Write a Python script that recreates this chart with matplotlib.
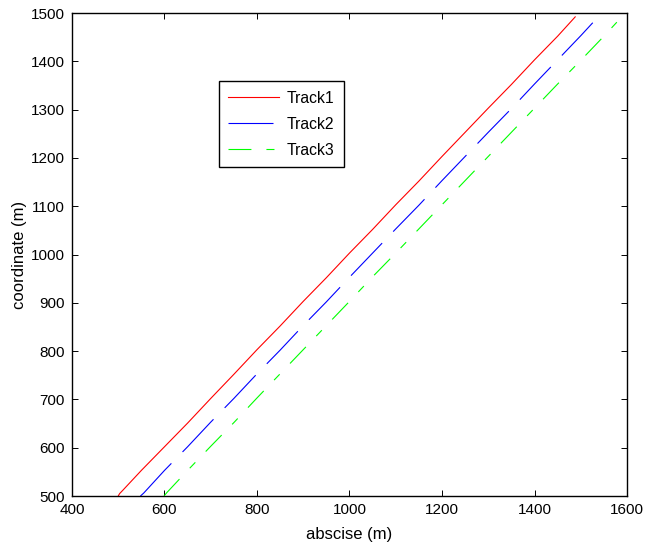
import matplotlib
matplotlib.use("Agg")
import matplotlib.pyplot as plt

plt.rcParams['font.family'] = ['Liberation Sans', 'DejaVu Sans']
plt.rcParams['lines.scale_dashes'] = False

# track positions in metres
track1_x = [500, 503, 510, 550, 600, 650, 700, 750, 800, 850, 900, 950, 1000,
            1050, 1100, 1150, 1200, 1250, 1300, 1350, 1400, 1450, 1488]
track1_y = [500, 505, 512, 553, 602, 651, 702, 752, 803, 852, 903, 952, 1003,
            1052, 1103, 1152, 1203, 1253, 1303, 1352, 1403, 1452, 1492]

track2_x = [548, 555, 600, 650, 700, 750, 800, 850, 900, 950, 1000, 1050,
            1100, 1150, 1200, 1250, 1300, 1350, 1400, 1450, 1500, 1528]
track2_y = [500, 506, 553, 602, 653, 702, 753, 802, 853, 902, 953, 1003,
            1053, 1102, 1153, 1203, 1253, 1302, 1353, 1403, 1453, 1482]

track3_x = [599, 605, 650, 700, 750, 800, 850, 900, 950, 1000, 1050, 1100,
            1150, 1200, 1250, 1300, 1350, 1400, 1450, 1500, 1550, 1578]
track3_y = [500, 507, 553, 603, 652, 703, 753, 803, 853, 903, 954, 1003,
            1053, 1103, 1153, 1203, 1253, 1303, 1353, 1402, 1452, 1481]

fig = plt.figure(figsize=(6.45, 5.47), dpi=100)
ax = fig.add_axes([0.1116, 0.0932, 0.8605, 0.883])

ax.plot(track1_x, track1_y, color='#ff0000', lw=0.8, label='Track1')
ax.plot(track2_x, track2_y, color='#0000ff', lw=0.8, label='Track2',
        dashes=(32.4, 11.5))
ax.plot(track3_x, track3_y, color='#00ff00', lw=0.8, label='Track3',
        dashes=(16.5, 10.8, 5.8, 10.8))

ax.set_xlim(400, 1600)
ax.set_ylim(500, 1500)
ax.set_xticks(range(400, 1601, 200))
ax.set_yticks(range(500, 1501, 100))
ax.tick_params(direction='in', top=True, right=True, length=4.3, width=0.7,
               labelsize=11, pad=5)
for s in ax.spines.values():
    s.set_linewidth(1.0)

ax.set_xlabel('abscise (m)', fontsize=12, labelpad=7)
ax.set_ylabel('coordinate (m)', fontsize=12, labelpad=3)

leg = ax.legend(loc='upper left', bbox_to_anchor=(0.265, 0.859),
                borderaxespad=0, fancybox=False, fontsize=11.3,
                handlelength=3.2, handletextpad=0.5, labelspacing=0.7,
                borderpad=0.6, framealpha=1)
leg.get_frame().set_edgecolor('black')
leg.get_frame().set_linewidth(1.0)

fig.savefig('out.png', dpi=100)
